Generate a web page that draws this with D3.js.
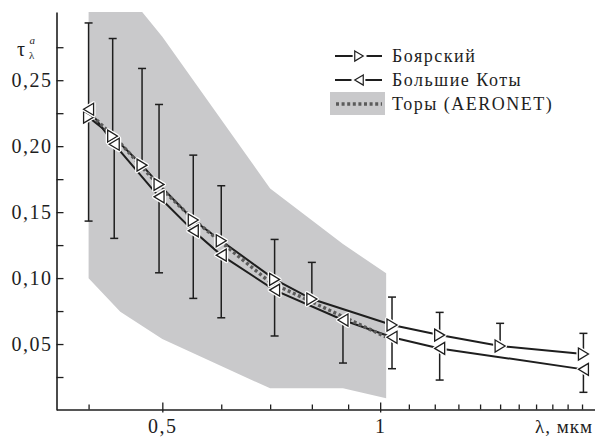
<!DOCTYPE html>
<html>
<head>
<meta charset="utf-8">
<script src="https://cdn.jsdelivr.net/npm/d3@7"></script>
<style>
  html, body { margin: 0; padding: 0; background: #fff; }
  svg { display: block; }
</style>
</head>
<body>
<svg id="chart" width="595" height="437"></svg>
<script>
// ── Data (wavelength in µm, aerosol optical depth) ─────────────
const boyarLambda = [0.40, 0.43, 0.47, 0.495, 0.55, 0.60, 0.71, 0.80, 1.04, 1.22, 1.50, 2.01];
const boyarTau    = [0.222, 0.2076, 0.1856, 0.171, 0.144, 0.1283, 0.099, 0.0841, 0.0644, 0.0568, 0.0485, 0.0424];
const boyarUpper  = [0.2934, 0.2816, 0.2589, 0.2316, 0.1932, 0.170, 0.1293, 0.1119, 0.0856, 0.0740, 0.0657, 0.0581];

const kotyLambda = [0.40, 0.432, 0.495, 0.55, 0.60, 0.71, 0.885, 1.04, 1.22, 2.01];
const kotyTau    = [0.228, 0.2015, 0.1616, 0.1358, 0.1174, 0.0909, 0.0682, 0.0551, 0.0467, 0.0308];
const kotyLower  = [0.1432, 0.1301, 0.1040, 0.0846, 0.0699, 0.0561, 0.0356, 0.0313, 0.0227, 0.0134];

const aeroLambda = [0.40, 0.44, 0.50, 0.55, 0.70, 0.885, 1.02];
const aeroTau    = [0.2258, 0.2023, 0.1672, 0.1445, 0.0968, 0.0708, 0.0553];

const bandLambda = [0.40, 0.44, 0.50, 0.70, 0.885, 1.02];
const bandLow    = [0.0998, 0.0745, 0.0538, 0.0164, 0.0164, 0.0089];
const bandHigh   = [0.36, 0.322, 0.283, 0.168, 0.1258, 0.1036];

const xTicks = [0.4, 0.5, 0.6, 0.7, 0.8, 0.9, 1, 1.1, 1.2, 1.3, 1.4, 1.5, 1.6, 1.7, 1.8, 1.9, 2.0];
const xLabels = { 0.5: '0,5', 1: '1' };
const yTicks = [0.025, 0.05, 0.075, 0.1, 0.125, 0.15, 0.175, 0.2, 0.225, 0.25, 0.275];

const legendItems = ['Боярский', 'Большие Коты', 'Торы (AERONET)'];

// ── Scales ─────────────────────────────────────────────────────
const svg = d3.select('#chart');
const plotLeft = 56.5, plotRight = 595, plotTop = 12, plotBottom = 409.5;
const SERIF = '"Liberation Serif", "DejaVu Serif", "Times New Roman", serif';

const x = d3.scalePow().exponent(-0.11)
  .domain([0.3636, 2.095])
  .range([plotLeft, plotRight]);

const y = d3.scaleLinear()
  .domain([0, 0.3017])
  .range([410, plotTop]);

const ru = d3.formatLocale({ decimal: ',', thousands: ' ', grouping: [3], currency: ['', ''] });
const fmt = ru.format('.2f');

const INK = '#1e1e1e';
const BAND = '#c9c9cb';
const DOT = '#5b5b5b';

svg.append('defs').append('clipPath').attr('id', 'plot-clip')
  .append('rect')
  .attr('x', plotLeft).attr('y', plotTop)
  .attr('width', plotRight - plotLeft).attr('height', plotBottom - plotTop);

// ── Shaded AERONET range ───────────────────────────────────────
const band = bandLambda.map((l, i) => ({ l, lo: bandLow[i], hi: bandHigh[i] }));
svg.append('path')
  .attr('clip-path', 'url(#plot-clip)')
  .attr('fill', BAND)
  .attr('d', d3.area()
    .x(d => x(d.l))
    .y0(d => y(d.lo))
    .y1(d => y(d.hi))(band));

// ── Axes ───────────────────────────────────────────────────────
const yAxis = svg.append('g')
  .attr('transform', `translate(${plotLeft},0)`)
  .call(d3.axisLeft(y)
    .tickValues(yTicks)
    .tickSizeInner(-7)
    .tickSizeOuter(0)
    .tickPadding(4)
    .tickFormat(d => (Math.round(d * 1000) % 50 === 0) ? fmt(d) : ''));

const xAxis = svg.append('g')
  .attr('transform', `translate(0,${plotBottom})`)
  .call(d3.axisBottom(x)
    .tickValues(xTicks)
    .tickSizeInner(-5)
    .tickSizeOuter(0)
    .tickPadding(9)
    .tickFormat(d => xLabels[d] || ''));

[yAxis, xAxis].forEach(ax => {
  ax.attr('font-family', SERIF);
  ax.select('.domain').attr('stroke', INK).attr('stroke-width', 1.6);
  ax.selectAll('.tick line').attr('stroke', INK).attr('stroke-width', 1.3);
  ax.selectAll('.tick text')
    .attr('font-family', SERIF)
    .attr('font-size', 20)
    .attr('letter-spacing', 1.5)
    .attr('fill', INK);
});

// major x ticks a bit longer, crossing the axis
xAxis.selectAll('.tick line')
  .filter(d => xLabels[d])
  .attr('y1', 3).attr('y2', -7);

// ── Error bars ─────────────────────────────────────────────────
const capW = 8;
const errs = [
  ...boyarLambda.map((l, i) => ({ l, from: boyarTau[i], to: boyarUpper[i] })),
  ...kotyLambda.map((l, i) => ({ l, from: kotyTau[i], to: kotyLower[i] }))
];
const errG = svg.append('g').attr('stroke', INK).attr('stroke-width', 1.5);
errG.selectAll('.err').data(errs).enter().append('line')
  .attr('x1', d => x(d.l)).attr('x2', d => x(d.l))
  .attr('y1', d => y(d.from)).attr('y2', d => y(d.to));
errG.selectAll('.cap').data(errs).enter().append('line')
  .attr('x1', d => x(d.l) - capW / 2).attr('x2', d => x(d.l) + capW / 2)
  .attr('y1', d => y(d.to)).attr('y2', d => y(d.to));

// ── Lines ──────────────────────────────────────────────────────
const line = d3.line().x(d => x(d[0])).y(d => y(d[1]));
const boyar = boyarLambda.map((l, i) => [l, boyarTau[i]]);
const koty = kotyLambda.map((l, i) => [l, kotyTau[i]]);
const aero = aeroLambda.map((l, i) => [l, aeroTau[i]]);

svg.append('path').datum(boyar)
  .attr('fill', 'none').attr('stroke', INK).attr('stroke-width', 2)
  .attr('d', line);
svg.append('path').datum(koty)
  .attr('fill', 'none').attr('stroke', INK).attr('stroke-width', 2)
  .attr('d', line);
svg.append('path').datum(aero)
  .attr('fill', 'none').attr('stroke', DOT).attr('stroke-width', 3.4)
  .attr('stroke-dasharray', '3,2.6')
  .attr('d', line);

// ── Markers ────────────────────────────────────────────────────
const TW = 10, TH = 12;
const triRight = `M${-TW / 2},${-TH / 2}L${TW / 2},0L${-TW / 2},${TH / 2}Z`;
const triLeft = `M${TW / 2},${-TH / 2}L${-TW / 2},0L${TW / 2},${TH / 2}Z`;

function drawMarkers(data, shape) {
  const g = svg.append('g');
  const m = g.selectAll('g').data(data).enter().append('g')
    .attr('transform', d => `translate(${x(d[0])},${y(d[1])})`);
  m.append('path').attr('d', shape)
    .attr('fill', '#fff').attr('stroke', '#fff').attr('stroke-width', 4)
    .attr('stroke-linejoin', 'round');
  m.append('path').attr('d', shape)
    .attr('fill', '#fff').attr('stroke', INK).attr('stroke-width', 1.3);
}
drawMarkers(boyar, triRight);
drawMarkers(koty, triLeft);

// ── Axis titles ────────────────────────────────────────────────
const yt = svg.append('text').attr('font-family', SERIF).attr('font-size', 20).attr('fill', INK);
yt.append('tspan').attr('x', 17).attr('y', 56).text('τ');
yt.append('tspan').attr('x', 29.5).attr('y', 43.5).attr('font-size', 11)
  .attr('font-style', 'italic').text('a');
yt.append('tspan').attr('x', 29).attr('y', 59).attr('font-size', 11).text('λ');

svg.append('text')
  .attr('x', 593).attr('y', 433)
  .attr('text-anchor', 'end')
  .attr('font-family', SERIF)
  .attr('font-size', 19).attr('letter-spacing', 1)
  .attr('fill', INK)
  .text('λ, мкм');

// ── Legend ─────────────────────────────────────────────────────
const lg = svg.append('g').attr('transform', 'translate(335,0)');
const rowY = [56, 80, 104];

lg.append('rect')
  .attr('x', -5).attr('y', rowY[2] - 12)
  .attr('width', 55).attr('height', 23)
  .attr('fill', BAND);

[triRight, triLeft].forEach((shape, i) => {
  lg.append('line')
    .attr('x1', 0).attr('x2', 47)
    .attr('y1', rowY[i]).attr('y2', rowY[i])
    .attr('stroke', INK).attr('stroke-width', 2);
  lg.append('path')
    .attr('transform', `translate(24,${rowY[i]}) scale(0.85)`)
    .attr('d', shape)
    .attr('fill', '#fff').attr('stroke', '#fff').attr('stroke-width', 5);
  lg.append('path')
    .attr('transform', `translate(24,${rowY[i]}) scale(0.85)`)
    .attr('d', shape)
    .attr('fill', '#fff').attr('stroke', INK).attr('stroke-width', 1.4);
});
lg.append('line')
  .attr('x1', 1).attr('x2', 47)
  .attr('y1', rowY[2]).attr('y2', rowY[2])
  .attr('stroke', DOT).attr('stroke-width', 3.4)
  .attr('stroke-dasharray', '3,2.6');

lg.selectAll('.lt').data(legendItems).enter().append('text')
  .attr('x', 57)
  .attr('y', (d, i) => rowY[i] + 6)
  .attr('font-family', SERIF)
  .attr('font-size', 18)
  .attr('letter-spacing', 1.5)
  .attr('fill', INK)
  .text(d => d);
</script>
</body>
</html>
